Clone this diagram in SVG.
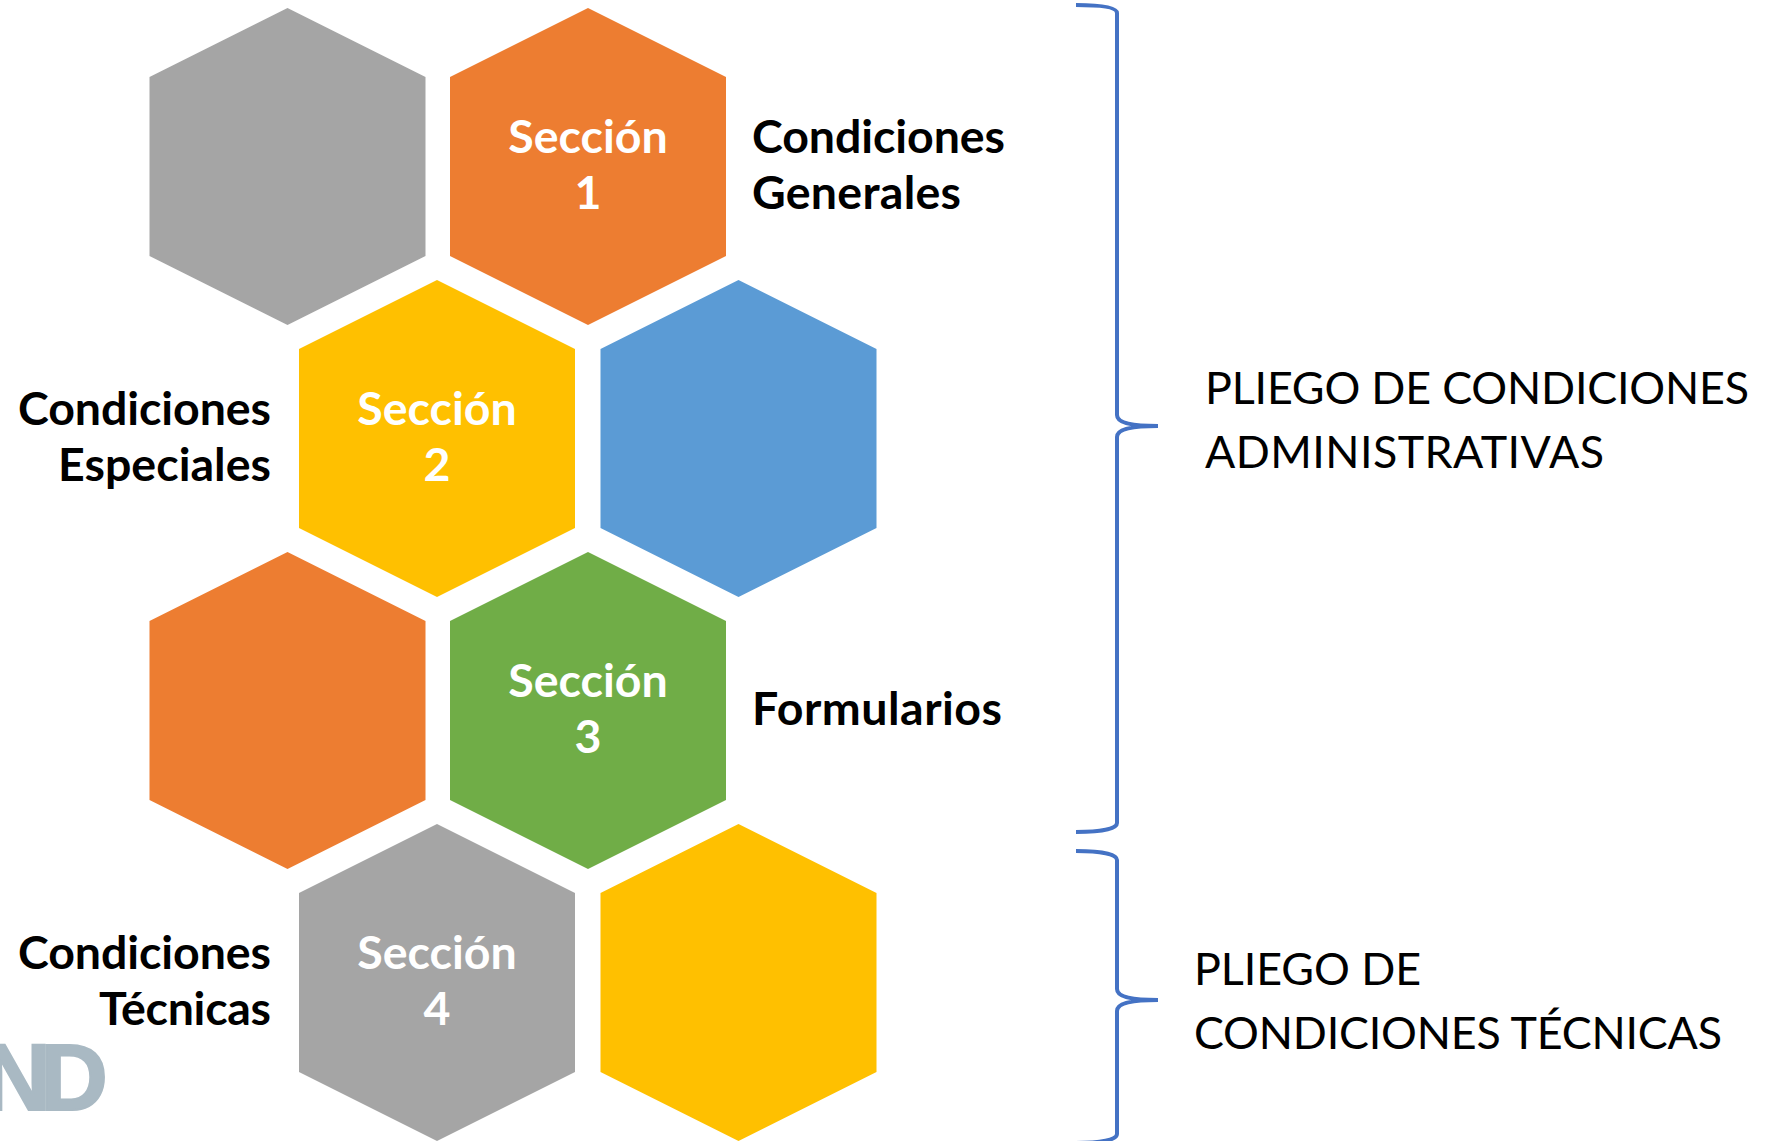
<svg xmlns="http://www.w3.org/2000/svg" width="1767" height="1141" viewBox="0 0 1767 1141">
<defs>
<polygon id="hex" points="0,-158.500 138,-89.500 138,89.500 0,158.500 -138,89.500 -138,-89.500"/>
</defs>
<style>
text{font-family:"Lato","Liberation Sans",sans-serif}
.s{font-size:46.500px;font-weight:700;fill:#fff;text-anchor:middle}
.b{font-size:46.500px;font-weight:700;fill:#000}
.e{text-anchor:end}
.p{font-size:44.800px;fill:#000}
.br{fill:none;stroke:#4472c4;stroke-width:4}
</style>
<rect width="1767" height="1141" fill="#fff"/>
<g id="logo"><text x="-17" y="1110" font-size="94" font-weight="700" fill="#a9b9c3" stroke="#a9b9c3" stroke-width="2" letter-spacing="-11" style="font-family:'Liberation Sans',sans-serif">ND</text></g>
<g id="hex-gray-1"><use href="#hex" x="287.500" y="166.500" fill="#a5a5a5"/></g>
<g id="seccion-1"><use href="#hex" x="588" y="166.500" fill="#ed7d31"/><text class="s" x="588" y="153">Sección</text><text class="s" x="588" y="209">1</text></g>
<g id="seccion-2"><use href="#hex" x="437" y="438.500" fill="#ffc000"/><text class="s" x="437" y="425">Sección</text><text class="s" x="437" y="481">2</text></g>
<g id="hex-blue"><use href="#hex" x="738.500" y="438.500" fill="#5b9bd5"/></g>
<g id="hex-orange"><use href="#hex" x="287.500" y="710.500" fill="#ed7d31"/></g>
<g id="seccion-3"><use href="#hex" x="588" y="710.500" fill="#70ad47"/><text class="s" x="588" y="697">Sección</text><text class="s" x="588" y="753">3</text></g>
<g id="seccion-4"><use href="#hex" x="437" y="982.500" fill="#a5a5a5"/><text class="s" x="437" y="969">Sección</text><text class="s" x="437" y="1025">4</text></g>
<g id="hex-yellow"><use href="#hex" x="738.500" y="982.500" fill="#ffc000"/></g>
<g id="label-generales"><text class="b" x="752" y="153" textLength="253">Condiciones</text><text class="b" x="752" y="209" textLength="209">Generales</text></g>
<g id="label-especiales"><text class="b e" x="271" y="425" textLength="253">Condiciones</text><text class="b e" x="271" y="481" textLength="213">Especiales</text></g>
<g id="label-formularios"><text class="b" x="752" y="725" textLength="250">Formularios</text></g>
<g id="label-tecnicas"><text class="b e" x="271" y="969" textLength="253">Condiciones</text><text class="b e" x="271" y="1025" textLength="172">Técnicas</text></g>
<g id="label-admin"><text class="p" x="1205" y="404" textLength="544">PLIEGO DE CONDICIONES</text><text class="p" x="1205" y="468" textLength="399">ADMINISTRATIVAS</text></g>
<g id="label-tec"><text class="p" x="1194" y="985" textLength="227">PLIEGO DE</text><text class="p" x="1194" y="1049" textLength="528">CONDICIONES TÉCNICAS</text></g>
<g id="connectors">
<path class="br" d="M1076,5 C1100,5 1117,7 1117,13 V415 C1117,422 1128,426 1158,426 C1128,426 1117,430 1117,437 V823 C1117,829 1100,832 1076,832"/>
<path class="br" d="M1076,851 C1100,851 1117,854 1117,860 V989 C1117,996 1128,1000 1158,1000 C1128,1000 1117,1004 1117,1011 V1134 C1117,1140 1100,1143 1076,1143"/>
</g>
</svg>
